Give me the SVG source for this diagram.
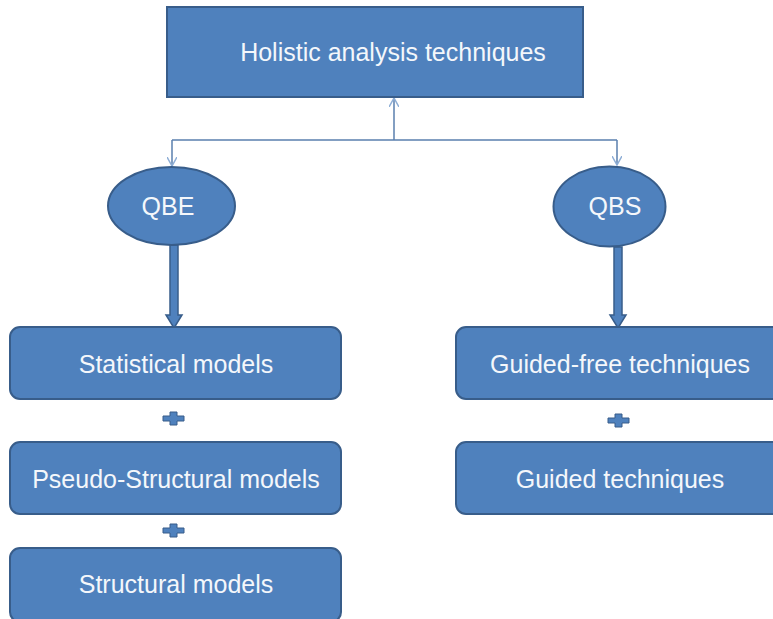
<svg xmlns="http://www.w3.org/2000/svg" width="773" height="619" viewBox="0 0 773 619">
<defs>
<style>
.box{fill:#4F81BD;stroke:#385D8A;stroke-width:2}
.lbl{font-family:"Liberation Sans",Arial,sans-serif;font-size:25px;fill:#F4F7FB;text-anchor:middle}
.thin{fill:none;stroke:#5A7FAE;stroke-width:1.5}
.thick{fill:#4F81BD;stroke:#385D8A;stroke-width:1.5}
.plus{fill:#4F81BD;stroke:#385D8A;stroke-width:1}
</style>
<marker id="open" viewBox="0 0 10 10" refX="9" refY="5" markerWidth="10" markerHeight="10" markerUnits="userSpaceOnUse" orient="auto">
<path d="M0,0 L9,5 L0,10" fill="none" stroke="#8EAED6" stroke-width="1.5"/>
</marker>
</defs>
<rect width="773" height="619" fill="#FFFFFF"/>
<g id="connectors">
<path class="thin" d="M394,140 V98" marker-end="url(#open)"/>
<path class="thin" d="M172,140 H617"/>
<path class="thin" d="M172,140 V166" marker-end="url(#open)"/>
<path class="thin" d="M617,140 V165" marker-end="url(#open)"/>
<path class="thick" d="M170,245 V315 H166 L174,328 L182,315 H178 V245 Z"/>
<path class="thick" d="M614,247 V315 H610 L618,328 L626,315 H622 V247 Z"/>
</g>
<g id="holistic">
<rect class="box" x="167" y="7" width="416" height="90"/>
<text class="lbl" x="393" y="61">Holistic analysis techniques</text>
</g>
<g id="qbe">
<ellipse class="box" cx="171.5" cy="206" rx="63.5" ry="39"/>
<text class="lbl" x="168" y="215">QBE</text>
</g>
<g id="qbs">
<ellipse class="box" cx="609.5" cy="206.5" rx="56" ry="40"/>
<text class="lbl" x="615" y="215">QBS</text>
</g>
<g id="statistical">
<rect class="box" x="10" y="327" width="331" height="72" rx="10"/>
<text class="lbl" x="176" y="373">Statistical models</text>
</g>
<g id="pseudo">
<rect class="box" x="10" y="442" width="331" height="72" rx="10"/>
<text class="lbl" x="176" y="488">Pseudo-Structural models</text>
</g>
<g id="structural">
<rect class="box" x="10" y="548" width="331" height="74" rx="10"/>
<text class="lbl" x="176" y="593">Structural models</text>
</g>
<g id="guidedfree">
<rect class="box" x="456" y="327" width="330" height="72" rx="10"/>
<text class="lbl" x="620" y="373">Guided-free techniques</text>
</g>
<g id="guided">
<rect class="box" x="456" y="442" width="330" height="72" rx="10"/>
<text class="lbl" x="620" y="488">Guided techniques</text>
</g>
<g id="plus1"><path class="plus" d="M170,412 h7 v4 h7 v5 h-7 v4 h-7 v-4 h-7 v-5 h7 Z"/></g>
<g id="plus2"><path class="plus" d="M170,524 h7 v4 h7 v5 h-7 v4 h-7 v-4 h-7 v-5 h7 Z"/></g>
<g id="plus3"><path class="plus" d="M615,414 h7 v4 h7 v5 h-7 v4 h-7 v-4 h-7 v-5 h7 Z"/></g>
</svg>
